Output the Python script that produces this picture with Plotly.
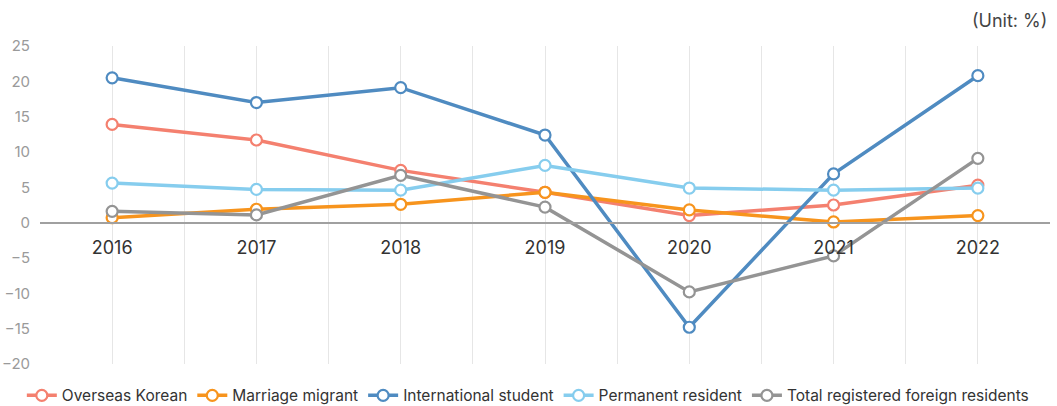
import plotly.graph_objects as go

years = ["2016", "2017", "2018", "2019", "2020", "2021", "2022"]
overseas_korean = [13.9, 11.7, 7.4, 4.3, 1.0, 2.5, 5.3]
marriage_migrant = [0.7, 1.9, 2.6, 4.3, 1.8, 0.1, 1.0]
international_student = [20.5, 17.0, 19.1, 12.4, -14.8, 6.9, 20.8]
permanent_resident = [5.6, 4.7, 4.6, 8.1, 4.9, 4.6, 4.9]
total_registered = [1.6, 1.1, 6.7, 2.2, -9.8, -4.7, 9.1]

series = [
    ("Overseas Korean", overseas_korean, "#F4806F"),
    ("Marriage migrant", marriage_migrant, "#F7941D"),
    ("International student", international_student, "#4F8BC1"),
    ("Permanent resident", permanent_resident, "#86CDEE"),
    ("Total registered foreign residents", total_registered, "#949494"),
]

y_min, y_max = -20, 25
xidx = list(range(len(years)))

fig = go.Figure()
for name, vals, color in series:
    fig.add_trace(go.Scatter(
        x=xidx, y=vals, name=name, mode="lines+markers",
        line=dict(color=color, width=3.5),
        marker=dict(size=11, color="white", line=dict(color=color, width=2.2)),
    ))

fig.update_layout(
    width=1057, height=406,
    margin=dict(l=40, r=7, t=46, b=42, autoexpand=False),
    paper_bgcolor="white", plot_bgcolor="white",
    font=dict(family="Inter, Noto Sans, sans-serif"),
    showlegend=True,
    legend=dict(orientation="h", x=0.483, xanchor="center", y=-0.1, yanchor="middle",
                font=dict(size=15.5, color="#333333"), itemwidth=30,
                tracegroupgap=0),
    xaxis=dict(
        range=[-0.5, len(years) - 0.5],
        tickmode="array", tickvals=xidx, ticktext=years,
        anchor="free", position=(0 - y_min) / (y_max - y_min),
        showline=True, linecolor="#A0A0A0", linewidth=2,
        showgrid=True, gridcolor="#E6E6E6", gridwidth=1,
        minor=dict(dtick=0.5, tick0=-0.5, showgrid=True, gridcolor="#E6E6E6", gridwidth=1),
        ticks="", tickfont=dict(size=18, color="#333333"),
        ticklabelstandoff=9, zeroline=False, automargin=False,
    ),
    yaxis=dict(
        range=[y_min, y_max], dtick=5, showgrid=False, zeroline=False,
        ticks="", tickfont=dict(size=15, color="#9A9A9A"), ticklabelstandoff=9,
        automargin=False,
    ),
    annotations=[dict(text="(Unit: %)", xref="paper", yref="paper", x=1.0, y=1.0,
                      xanchor="right", yanchor="middle", yshift=26, xshift=-1,
                      showarrow=False,
                      font=dict(size=18, color="#444444"))],
)

fig.write_html("out.html", config={"displayModeBar": False},
               post_script="document.body.style.margin='0';document.body.style.padding='0';")
